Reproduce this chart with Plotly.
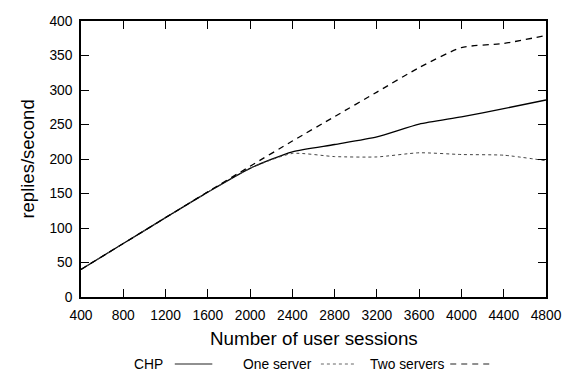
import plotly.graph_objects as go

sessions = [400, 800, 1200, 1600, 2000, 2400, 2800, 3200, 3600, 4000, 4400, 4800]
chp = [40, 77.5, 115, 152, 186.5, 210.5, 221, 232, 250.5, 261, 273, 285.5]
one_server = [40, 77.5, 115, 152, 186.5, 208, 203.5, 203, 209, 206.5, 205.5, 197.5]
two_servers = [40, 77.5, 115, 152.5, 189.5, 226, 261.5, 297, 332.5, 361.5, 367.5, 379]

x_ticks = [400, 800, 1200, 1600, 2000, 2400, 2800, 3200, 3600, 4000, 4400, 4800]
y_ticks = [0, 50, 100, 150, 200, 250, 300, 350, 400]

FONT = "Liberation Sans, Arial, sans-serif"

fig = go.Figure()
fig.add_trace(go.Scatter(x=sessions, y=chp, name="CHP", mode="lines",
                         line=dict(color="black", width=1.3, shape="spline", smoothing=0.6)))
fig.add_trace(go.Scatter(x=sessions, y=one_server, name="One server", mode="lines",
                         line=dict(color="#444", width=1, dash="dot", shape="spline", smoothing=0.6)))
fig.add_trace(go.Scatter(x=sessions, y=two_servers, name="Two servers", mode="lines",
                         line=dict(color="black", width=1.3, dash="6px,5px", shape="spline", smoothing=0.6)))

axis_common = dict(showgrid=False, zeroline=False, showline=True, linecolor="black", linewidth=1.6,
                   mirror="allticks", ticks="inside", ticklen=8, tickwidth=1.2, tickcolor="black",
                   tickfont=dict(family=FONT, size=13.8, color="black"))

fig.update_xaxes(range=[400, 4800], tickvals=x_ticks, ticktext=[str(v) for v in x_ticks],
                 ticklabelstandoff=5, **axis_common)
fig.update_yaxes(range=[0, 400], tickvals=y_ticks, ticktext=[str(v) for v in y_ticks],
                 ticklabelstandoff=4, **axis_common)

ann = []
ann.append(dict(text="Number of user sessions", xref="paper", yref="paper", x=0.5, y=-0.152,
                xanchor="center", yanchor="middle", showarrow=False,
                font=dict(family=FONT, size=18.8, color="black")))
ann.append(dict(text="replies/second", xref="paper", yref="paper", x=-0.117, y=0.5, textangle=-90,
                xanchor="center", yanchor="middle", showarrow=False,
                font=dict(family=FONT, size=18.5, color="black")))

# manual legend (text then line sample, as in reference)
legend_items = [("CHP", 166, 176, 214, dict(color="#222", width=1.2)),
                ("One server", 317, 324, 358, dict(color="#666", width=1, dash="dot")),
                ("Two servers", 451, 455, 498, dict(color="#222", width=1.2, dash="6px,5px"))]
W, H = 574, 371
ml, mr, mt, mb = 81, 22, 21, 74
pw, ph = W - ml - mr, H - mt - mb
ly = 364
shapes = []
for label, text_right, x0, x1, ln in legend_items:
    ann.append(dict(text=label, xref="paper", yref="paper", x=(text_right - ml) / pw,
                    y=(H - mb - ly) / ph, xanchor="right", yanchor="middle", showarrow=False,
                    font=dict(family=FONT, size=13.8, color="black")))
    shapes.append(dict(type="line", xref="paper", yref="paper", x0=(x0 - ml) / pw, x1=(x1 - ml) / pw,
                       y0=(H - mb - ly) / ph, y1=(H - mb - ly) / ph, line=ln))

fig.update_layout(width=W, height=H, margin=dict(l=ml, r=mr, t=mt, b=mb),
                  plot_bgcolor="white", paper_bgcolor="white", showlegend=False,
                  annotations=ann, shapes=shapes, font=dict(family=FONT, color="black"))

fig.write_html("out.html", config={"displayModeBar": False},
               post_script="document.body.style.margin='0px';document.body.style.padding='0px';"
                           "document.body.style.overflow='hidden';")
